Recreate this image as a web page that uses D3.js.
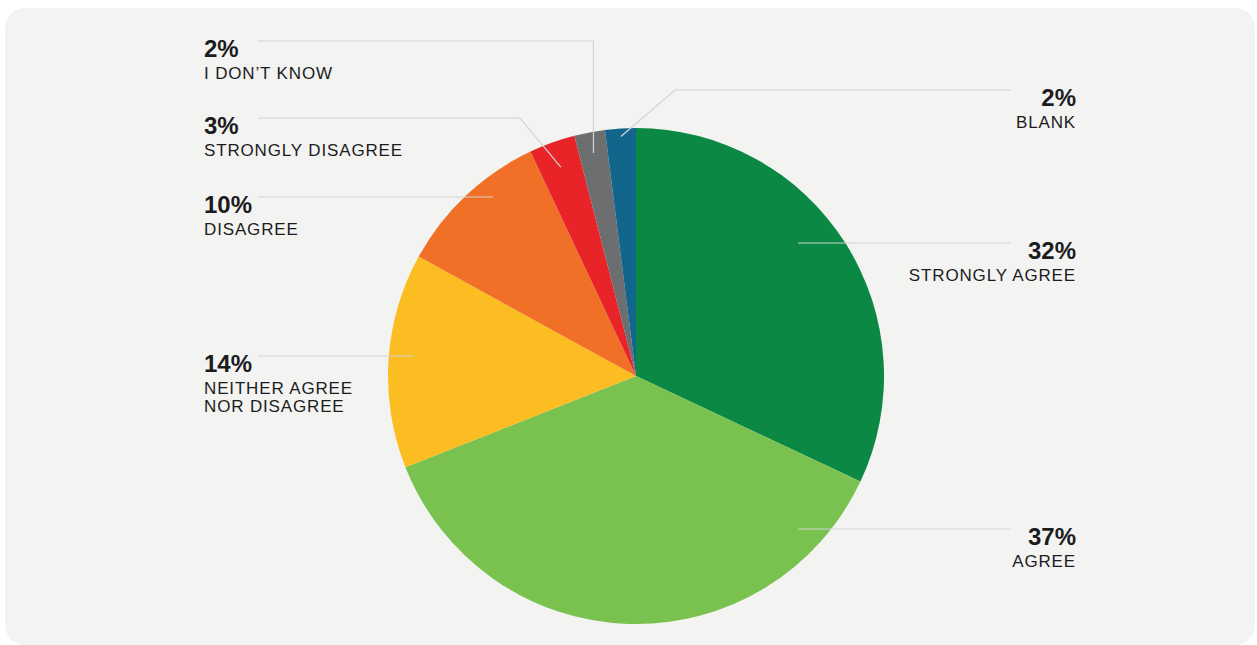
<!DOCTYPE html>
<html>
<head>
<meta charset="utf-8">
<script src="https://cdn.jsdelivr.net/npm/d3@7/dist/d3.min.js"></script>
<style>
  html, body { margin: 0; padding: 0; background: #ffffff; }
  svg { display: block; }
  text { font-family: "Liberation Sans", Arial, Helvetica, sans-serif; fill: #1b1c1e; }
</style>
</head>
<body>
<svg id="chart" width="1257" height="645"></svg>
<script>
// Survey response shares, clockwise from 12 o'clock
const categories = ["STRONGLY AGREE", "AGREE", "NEITHER AGREE|NOR DISAGREE", "DISAGREE", "STRONGLY DISAGREE", "I DON’T KNOW", "BLANK"];
const values = [32, 37, 14, 10, 3, 2, 2];
const colors = ["#0b8843", "#79c250", "#fbbd22", "#f17027", "#e82429", "#6d6e70", "#12668c"];

// Label placement: side, leader y, and where the leader meets the slice
// (inner: x for straight leaders; elbow: x where the leader bends toward the slice)
const labelLayout = [
  { side: "right", y: 243, inner: 798 },
  { side: "right", y: 529, inner: 798 },
  { side: "left",  y: 356, inner: 414 },
  { side: "left",  y: 197, inner: 493 },
  { side: "left",  y: 118, elbow: 520, rInner: 222 },
  { side: "left",  y: 41,  elbow: 601, rInner: 227, vertical: true },
  { side: "right", y: 90,  elbow: 675, rInner: 240 }
];

const W = 1257, H = 645;
const cx = 636, cy = 376, R = 248;
const leftTextX = 204, leftLineX = 258;
const rightTextX = 1076, rightLineX = 1011;

const svg = d3.select("#chart");

// panel
svg.append("rect")
  .attr("x", 5).attr("y", 8)
  .attr("width", 1250).attr("height", 637)
  .attr("rx", 20).attr("ry", 20)
  .attr("fill", "#f3f3f1");

const data = categories.map((c, i) => ({ label: c, value: values[i], color: colors[i], layout: labelLayout[i] }));

const pie = d3.pie().value(d => d.value).sort(null);
const arcs = pie(data);
const arc = d3.arc().innerRadius(0).outerRadius(R);

const g = svg.append("g").attr("transform", `translate(${cx},${cy})`);
g.selectAll("path.slice")
  .data(arcs)
  .join("path")
  .attr("class", "slice")
  .attr("d", arc)
  .attr("fill", d => d.data.color);

// leader lines
const lines = svg.append("g")
  .attr("fill", "none")
  .attr("stroke", "#d4d4d2")
  .attr("stroke-width", 1.2);

arcs.forEach(a => {
  const L = a.data.layout;
  const outerX = L.side === "left" ? leftLineX : rightLineX;
  let pts;
  if (L.elbow !== undefined) {
    const mid = (a.startAngle + a.endAngle) / 2;
    let px = cx + L.rInner * Math.sin(mid);
    let py = cy - L.rInner * Math.cos(mid);
    const ex = L.vertical ? px : L.elbow;
    pts = [[outerX, L.y], [ex, L.y], [px, py]];
  } else {
    pts = [[outerX, L.y], [L.inner, L.y]];
  }
  lines.append("path").attr("d", d3.line()(pts));
});

// labels
const labels = svg.append("g");
arcs.forEach(a => {
  const L = a.data.layout;
  const x = L.side === "left" ? leftTextX : rightTextX;
  const anchor = L.side === "left" ? "start" : "end";
  labels.append("text")
    .attr("x", x).attr("y", L.y + 16)
    .attr("text-anchor", anchor)
    .attr("font-size", 24)
    .attr("font-weight", "bold")
    .text(d3.format(".0f")(a.data.value) + "%");
  a.data.label.split("|").forEach((line, j) => {
    labels.append("text")
      .attr("x", x).attr("y", L.y + 38 + j * 17.5)
      .attr("text-anchor", anchor)
      .attr("font-size", 17)
      .attr("letter-spacing", 0.85)
      .text(line);
  });
});
</script>
</body>
</html>
